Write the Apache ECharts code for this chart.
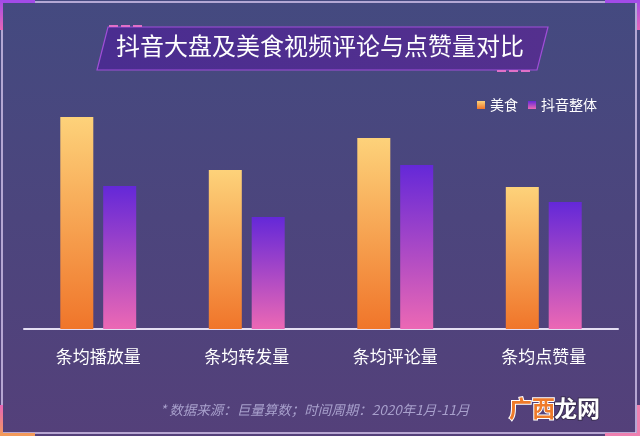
<!DOCTYPE html>
<html>
<head>
<meta charset="utf-8">
<script src="https://cdn.jsdelivr.net/npm/echarts@6/dist/echarts.min.js"></script>
<style>
  html, body { margin: 0; padding: 0; background: #4a4680; }
  #main { width: 640px; height: 436px; }
</style>
</head>
<body>
<div id="main"></div>
<script>
// 数据
const categories = ['条均播放量', '条均转发量', '条均评论量', '条均点赞量']
const foodValues = [212, 159, 191, 142]    // 美食
const douyinValues = [143, 112, 164, 127]  // 抖音整体
const seriesNames = ['美食', '抖音整体']

const font = '"Noto Sans CJK SC", "Noto Sans", sans-serif'

const chart = echarts.init(document.getElementById('main'))

const grad = (top, bottom) => new echarts.graphic.LinearGradient(0, 0, 0, 1, [
  { offset: 0, color: top },
  { offset: 1, color: bottom }
])

const option = {
  backgroundColor: grad('#444a80', '#54407a'),
  animation: false,
  legend: {
    right: 38,
    top: 93,
    itemWidth: 8,
    itemHeight: 8,
    itemGap: 10,
    icon: 'rect',
    textStyle: { color: '#ffffff', fontSize: 14, fontFamily: font },
    data: seriesNames
  },
  grid: { left: 24, right: 22, top: 79, bottom: 107 },
  xAxis: {
    type: 'category',
    data: categories,
    axisLine: { lineStyle: { color: '#e4def2', width: 2 } },
    axisTick: { show: false },
    axisLabel: { color: '#ffffff', fontSize: 17, fontFamily: font, margin: 19 }
  },
  yAxis: {
    type: 'value',
    min: 0,
    max: 250,
    show: false,
    splitLine: { show: false }
  },
  series: [
    {
      name: seriesNames[0],
      type: 'bar',
      barWidth: 33,
      barGap: '30%',
      itemStyle: { color: grad('#fdd27a', '#f0752a') },
      data: foodValues
    },
    {
      name: seriesNames[1],
      type: 'bar',
      barWidth: 33,
      itemStyle: { color: grad('#6428d8', '#ec68b4') },
      data: douyinValues
    }
  ],
  graphic: [
    // 外框
    { type: 'rect', shape: { x: 2, y: 2, width: 634, height: 431 }, style: { fill: 'none', stroke: '#d8c8f0', lineWidth: 1.5 }, silent: true },
    // 四角装饰
    { type: 'rect', shape: { x: 0, y: 0, width: 35, height: 3 }, style: { fill: '#a24be8' } },
    { type: 'rect', shape: { x: 0, y: 0, width: 3, height: 30 }, style: { fill: grad('#a24be8', '#e865b6') } },
    { type: 'rect', shape: { x: 605, y: 0, width: 35, height: 3 }, style: { fill: '#a24be8' } },
    { type: 'rect', shape: { x: 637, y: 0, width: 3, height: 30 }, style: { fill: grad('#a24be8', '#e865b6') } },
    { type: 'rect', shape: { x: 0, y: 405, width: 3, height: 31 }, style: { fill: grad('#e865b6', '#f39a5a') } },
    { type: 'rect', shape: { x: 0, y: 433, width: 35, height: 3 }, style: { fill: '#f39a5a' } },
    { type: 'rect', shape: { x: 605, y: 433, width: 35, height: 3 }, style: { fill: '#ee80b0' } },
    { type: 'rect', shape: { x: 637, y: 405, width: 3, height: 31 }, style: { fill: '#ee80b0' } },
    // 标题框
    {
      type: 'polygon',
      shape: { points: [[108, 27], [548, 27], [537, 70], [97, 70]] },
      style: { fill: new echarts.graphic.LinearGradient(0, 0, 1, 0, [
        { offset: 0, color: '#4a2d90' },
        { offset: 1, color: '#54308e' }
      ]), stroke: '#a04ed8', lineWidth: 1.2 }
    },
    { type: 'rect', shape: { x: 109, y: 25, width: 9, height: 2 }, style: { fill: '#e070c8' } },
    { type: 'rect', shape: { x: 121, y: 25, width: 9, height: 2 }, style: { fill: '#e070c8' } },
    { type: 'rect', shape: { x: 133, y: 25, width: 9, height: 2 }, style: { fill: '#e070c8' } },
    { type: 'rect', shape: { x: 497, y: 70, width: 9, height: 2 }, style: { fill: '#e070c8' } },
    { type: 'rect', shape: { x: 509, y: 70, width: 9, height: 2 }, style: { fill: '#e070c8' } },
    { type: 'rect', shape: { x: 521, y: 70, width: 9, height: 2 }, style: { fill: '#e070c8' } },
    {
      type: 'text',
      left: 'center',
      top: 34,
      style: { text: '抖音大盘及美食视频评论与点赞量对比', fill: '#ffffff', fontSize: 24, fontFamily: font }
    },
    // 数据来源
    {
      type: 'text',
      left: 160,
      top: 403,
      style: { text: '* 数据来源：巨量算数；时间周期：2020年1月-11月', fill: '#a8a0cc', fontSize: 13.5, fontStyle: 'italic', fontFamily: font }
    },
    // 水印
    {
      type: 'text',
      left: 508,
      top: 396,
      style: { text: '广西', fill: '#ee7a2a', stroke: '#ffffff', lineWidth: 2, fontSize: 23, fontWeight: 'bold', fontFamily: font }
    },
    {
      type: 'text',
      left: 553,
      top: 396,
      style: { text: '龙网', fill: '#ffffff', stroke: '#3a2e50', lineWidth: 2, fontSize: 23, fontWeight: 'bold', fontFamily: font }
    }
  ]
}

chart.setOption(option)
</script>
</body>
</html>
